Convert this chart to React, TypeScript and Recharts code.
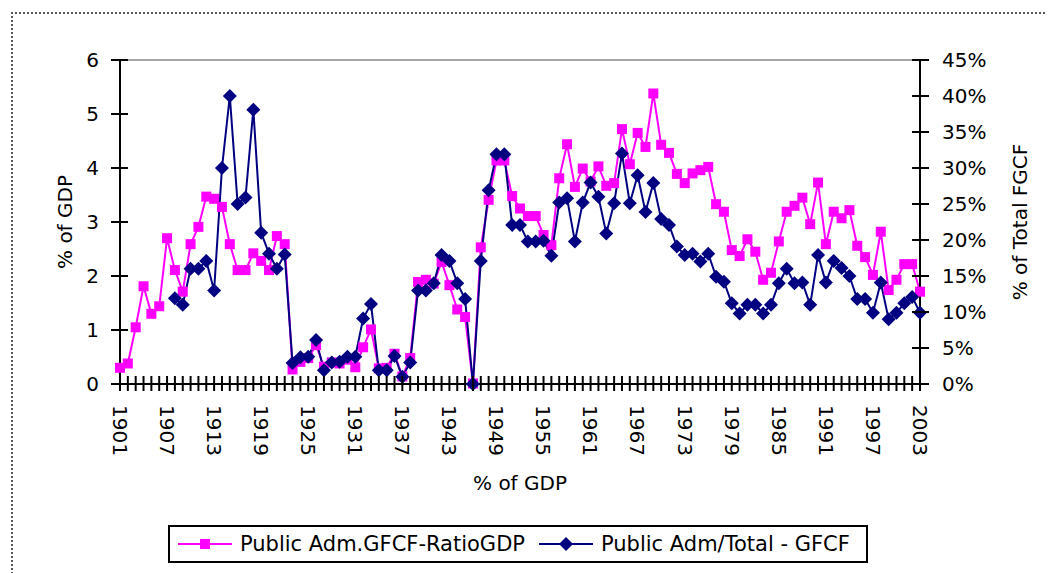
import { LineChart, Line, XAxis, YAxis, ReferenceLine, Label } from "recharts";

const FONT = "'DejaVu Sans', Verdana, sans-serif";
const PINK = "#FF00FF";
const NAVY = "#000080";

// categories
const years = Array.from({ length: 103 }, (_, i) => 1901 + i);

// Public Adm. GFCF as % of GDP (left axis)
const ratioGdp = [
  0.3, 0.38, 1.05, 1.81, 1.3, 1.44, 2.7, 2.11, 1.71, 2.59,
  2.91, 3.47, 3.43, 3.28, 2.59, 2.11, 2.11, 2.42, 2.28, 2.11,
  2.74, 2.59, 0.27, 0.41, 0.48, 0.72, 0.32, 0.4, 0.38, 0.45,
  0.31, 0.68, 1.01, 0.29, 0.3, 0.56, 0.14, 0.48, 1.89, 1.93,
  1.86, 2.26, 1.83, 1.38, 1.24, 0.01, 2.53, 3.41, 4.14, 4.14,
  3.48, 3.25, 3.11, 3.11, 2.76, 2.57, 3.81, 4.44, 3.65, 3.99,
  3.75, 4.03, 3.67, 3.72, 4.72, 4.07, 4.65, 4.39, 5.38, 4.43,
  4.28, 3.89, 3.72, 3.9, 3.96, 4.02, 3.33, 3.19, 2.48, 2.37,
  2.68, 2.45, 1.93, 2.06, 2.64, 3.19, 3.3, 3.45, 2.96, 3.73,
  2.59, 3.19, 3.07, 3.22, 2.56, 2.35, 2.02, 2.82, 1.74, 1.93,
  2.22, 2.22, 1.71,
];

// Public Adm. share of total GFCF, % (right axis)
const shareGfcf = [
  null, null, null, null, null, null, null, 11.9, 11.0, 16.0,
  16.0, 17.1, 13.0, 30.0, 40.0, 25.0, 25.9, 38.1, 21.0, 18.1,
  16.0, 18.0, 2.9, 3.7, 3.8, 6.1, 1.9, 3.0, 3.1, 3.8,
  3.8, 9.1, 11.1, 1.9, 1.9, 3.9, 1.0, 3.0, 13.0, 13.0,
  14.0, 17.9, 17.1, 14.0, 11.8, 0, 17.1, 26.9, 31.9, 31.9,
  22.1, 22.1, 19.8, 19.8, 19.9, 17.8, 25.2, 25.8, 19.8, 25.2,
  28.0, 26.0, 20.9, 25.1, 32.0, 25.1, 29.0, 23.9, 27.9, 22.9,
  22.1, 19.1, 17.9, 18.1, 17.0, 18.1, 14.9, 14.2, 11.2, 9.8,
  11.0, 11.0, 9.8, 11.0, 14.0, 16.0, 14.0, 14.1, 11.0, 17.9,
  14.1, 17.1, 16.1, 15.0, 11.8, 11.8, 9.9, 14.1, 9.0, 9.9,
  11.2, 12.1, 9.9,
];

const seriesNames = ["Public Adm.GFCF-RatioGDP", "Public Adm/Total - GFCF"];
const leftTicks = [0, 1, 2, 3, 4, 5, 6];
const rightTicks = [0, 5, 10, 15, 20, 25, 30, 35, 40, 45];

const data = years.map((year, i) => ({
  year,
  ratio: ratioGdp[i],
  share: shareGfcf[i],
}));

const XTick = (props: any) => {
  const { x, y, payload } = props;
  const showLabel = (payload.value - 1901) % 6 === 0;
  return (
    <g>
      <line x1={x} x2={x} y1={y - 8} y2={y + 7} stroke="#000" strokeWidth={2} />
      {showLabel && (
        <text
          transform={`translate(${x},${y + 21}) rotate(90)`}
          dy="0.36em"
          textAnchor="start"
          fontSize={20}
          fontFamily={FONT}
          fill="#000"
        >
          {payload.value}
        </text>
      )}
    </g>
  );
};

const LeftTick = (props: any) => {
  const { x, y, payload } = props;
  return (
    <g>
      <line x1={x - 9} x2={x + 8} y1={y} y2={y} stroke="#000" strokeWidth={2} />
      <text x={x - 21} y={y} dy="0.36em" textAnchor="end" fontSize={20} fontFamily={FONT} fill="#000">
        {payload.value}
      </text>
    </g>
  );
};

const RightTick = (props: any) => {
  const { x, y, payload } = props;
  return (
    <g>
      <line x1={x - 8} x2={x + 9} y1={y} y2={y} stroke="#000" strokeWidth={2} />
      <text x={x + 22} y={y} dy="0.36em" textAnchor="start" fontSize={20} fontFamily={FONT} fill="#000">
        {payload.value}%
      </text>
    </g>
  );
};

const SquareDot = (props: any) => {
  const { cx, cy, index } = props;
  if (cx == null || cy == null) return <g key={`sq-${index}`} />;
  return <rect key={`sq-${index}`} x={cx - 5} y={cy - 5} width={10} height={10} fill={PINK} />;
};

const DiamondDot = (props: any) => {
  const { cx, cy, index } = props;
  if (cx == null || cy == null) return <g key={`dm-${index}`} />;
  const r = 7;
  return (
    <path
      key={`dm-${index}`}
      d={`M${cx},${cy - r}L${cx + r},${cy}L${cx},${cy + r}L${cx - r},${cy}Z`}
      fill={NAVY}
    />
  );
};

const LegendIcon = ({ color, shape }: { color: string; shape: "square" | "diamond" }) => (
  <svg width={54} height={16} style={{ display: "block" }}>
    <line x1={0} x2={54} y1={8} y2={8} stroke={color} strokeWidth={2} />
    {shape === "square" ? (
      <rect x={22} y={3} width={10} height={10} fill={color} />
    ) : (
      <path d="M27,1L34,8L27,15L20,8Z" fill={color} />
    )}
  </svg>
);

export default function App() {
  return (
    <div style={{ position: "relative", width: 1046, height: 565, overflow: "hidden", background: "#fff" }}>
      <div
        style={{
          position: "absolute",
          left: 3,
          top: 4,
          width: 2000,
          height: 2000,
          borderLeft: "2px dotted #555",
          borderTop: "2px dotted #555",
        }}
      />
      <LineChart
        width={1046}
        height={565}
        data={data}
        margin={{ top: 52, right: 0, bottom: 0, left: 0 }}
        style={{ position: "absolute", left: 0, top: 0 }}
      >
        <XAxis
          dataKey="year"
          type="number"
          domain={[1901, 2003]}
          ticks={years}
          interval={0}
          height={189}
          tickSize={0}
          tickMargin={0}
          tickLine={false}
          tick={<XTick />}
          axisLine={{ stroke: "#000", strokeWidth: 2 }}
        >
          <Label
            content={(p: any) => {
              const vb = p.viewBox;
              return (
                <text
                  x={vb.x + vb.width / 2}
                  y={vb.y + 106}
                  textAnchor="middle"
                  fontSize={20}
                  fontFamily={FONT}
                  fill="#000"
                >
                  % of GDP
                </text>
              );
            }}
          />
        </XAxis>
        <YAxis
          yAxisId="left"
          orientation="left"
          width={112}
          domain={[0, 6]}
          ticks={leftTicks}
          interval={0}
          tickSize={0}
          tickMargin={0}
          tickLine={false}
          tick={<LeftTick />}
          axisLine={{ stroke: "#000", strokeWidth: 2 }}
        >
          <Label
            content={(p: any) => {
              const vb = p.viewBox;
              const cx = 57;
              const cy = vb.y + vb.height / 2;
              return (
                <text
                  transform={`translate(${cx},${cy}) rotate(-90)`}
                  textAnchor="middle"
                  dy="0.36em"
                  fontSize={20}
                  fontFamily={FONT}
                  fill="#000"
                >
                  % of GDP
                </text>
              );
            }}
          />
        </YAxis>
        <YAxis
          yAxisId="right"
          orientation="right"
          width={134}
          domain={[0, 45]}
          ticks={rightTicks}
          interval={0}
          tickSize={0}
          tickMargin={0}
          tickLine={false}
          tick={<RightTick />}
          axisLine={{ stroke: "#000", strokeWidth: 2 }}
        >
          <Label
            content={(p: any) => {
              const vb = p.viewBox;
              const cx = 1012;
              const cy = vb.y + vb.height / 2;
              return (
                <text
                  transform={`translate(${cx},${cy}) rotate(-90)`}
                  textAnchor="middle"
                  dy="0.36em"
                  fontSize={20}
                  fontFamily={FONT}
                  fill="#000"
                >
                  % of Total FGCF
                </text>
              );
            }}
          />
        </YAxis>
        <ReferenceLine yAxisId="left" y={6} stroke="#a6a6a6" strokeWidth={2} />
        <Line
          yAxisId="left"
          dataKey="ratio"
          name={seriesNames[0]}
          type="linear"
          stroke={PINK}
          strokeWidth={2}
          dot={SquareDot}
          activeDot={false}
          isAnimationActive={false}
        />
        <Line
          yAxisId="right"
          dataKey="share"
          name={seriesNames[1]}
          type="linear"
          stroke={NAVY}
          strokeWidth={2}
          dot={DiamondDot}
          activeDot={false}
          isAnimationActive={false}
        />
      </LineChart>
      <div
        style={{
          position: "absolute",
          left: 160,
          top: 517,
          width: 700,
          height: 38,
          border: "2px solid #000",
          boxSizing: "border-box",
          display: "flex",
          alignItems: "center",
          paddingLeft: 8,
          fontFamily: FONT,
          fontSize: 21,
          color: "#000",
          whiteSpace: "nowrap",
        }}
      >
        <LegendIcon color={PINK} shape="square" />
        <span style={{ marginLeft: 8 }}>{seriesNames[0]}</span>
        <span style={{ marginLeft: 14 }}>
          <LegendIcon color={NAVY} shape="diamond" />
        </span>
        <span style={{ marginLeft: 8 }}>{seriesNames[1]}</span>
      </div>
    </div>
  );
}
